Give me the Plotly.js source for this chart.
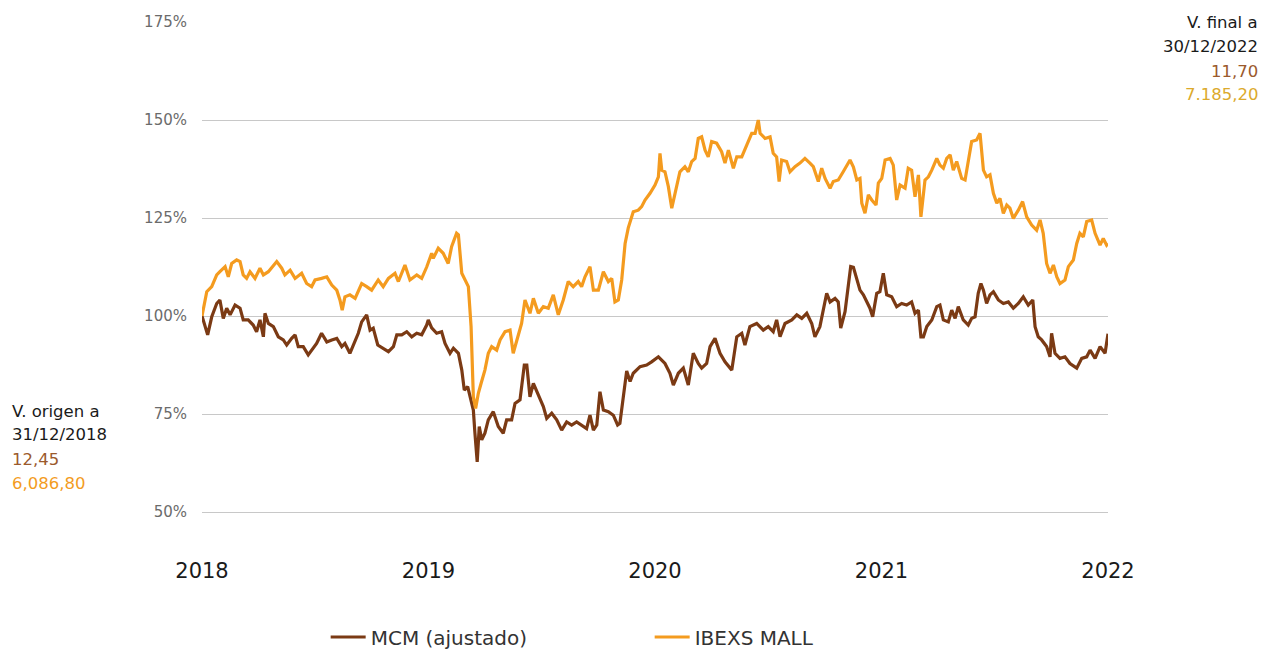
<!DOCTYPE html>
<html>
<head>
<meta charset="utf-8">
<script src="https://cdn.plot.ly/plotly-3.0.1.min.js"></script>
<style>html,body{margin:0;padding:0;background:#fff;}#chart{width:1274px;height:650px;}</style>
</head>
<body>
<div id="chart"></div>
<script>
// Time in decimal years, values as % of origin value
const mcmT = [2018.000,2018.013,2018.025,2018.043,2018.065,2018.079,2018.094,2018.109,2018.124,2018.146,2018.168,2018.182,2018.204,2018.226,2018.241,2018.256,2018.271,2018.278,2018.293,2018.315,2018.337,2018.359,2018.374,2018.396,2018.411,2018.425,2018.447,2018.469,2018.491,2018.506,2018.528,2018.551,2018.573,2018.595,2018.617,2018.631,2018.653,2018.676,2018.690,2018.705,2018.727,2018.742,2018.756,2018.776,2018.800,2018.823,2018.845,2018.860,2018.882,2018.904,2018.926,2018.948,2018.970,2018.992,2018.999,2019.014,2019.036,2019.058,2019.073,2019.095,2019.110,2019.132,2019.147,2019.158,2019.173,2019.188,2019.198,2019.205,2019.215,2019.224,2019.235,2019.249,2019.264,2019.286,2019.308,2019.330,2019.345,2019.367,2019.382,2019.404,2019.423,2019.434,2019.448,2019.463,2019.485,2019.507,2019.522,2019.544,2019.566,2019.588,2019.610,2019.632,2019.654,2019.676,2019.698,2019.713,2019.728,2019.743,2019.757,2019.772,2019.794,2019.816,2019.835,2019.845,2019.860,2019.875,2019.890,2019.904,2019.934,2019.963,2019.985,2020.015,2020.044,2020.066,2020.081,2020.103,2020.125,2020.147,2020.169,2020.191,2020.206,2020.228,2020.243,2020.265,2020.287,2020.309,2020.339,2020.361,2020.383,2020.397,2020.419,2020.449,2020.478,2020.500,2020.522,2020.537,2020.552,2020.574,2020.604,2020.626,2020.648,2020.670,2020.692,2020.706,2020.728,2020.743,2020.758,2020.773,2020.795,2020.809,2020.820,2020.839,2020.853,2020.864,2020.876,2020.891,2020.905,2020.920,2020.935,2020.949,2020.961,2020.979,2020.993,2021.008,2021.023,2021.045,2021.067,2021.089,2021.111,2021.133,2021.148,2021.163,2021.174,2021.185,2021.200,2021.222,2021.244,2021.258,2021.273,2021.295,2021.310,2021.325,2021.339,2021.361,2021.383,2021.398,2021.413,2021.427,2021.439,2021.450,2021.464,2021.479,2021.494,2021.516,2021.538,2021.560,2021.582,2021.604,2021.626,2021.648,2021.668,2021.678,2021.692,2021.707,2021.729,2021.744,2021.751,2021.766,2021.788,2021.810,2021.832,2021.862,2021.884,2021.906,2021.921,2021.943,2021.965,2021.987,2022.000];
const mcmV = [100,97.3,95.2,99.8,103.2,104.1,99.4,102,100.3,102.8,102,99,99,97.7,96,99,94.7,100.7,98.1,97.3,94.7,93.9,92.6,94.3,95.2,92.2,92.2,90.1,91.8,93,95.6,93.4,93.9,94.3,92.2,93,90.5,93.9,95.6,98.5,100.3,96.4,96.9,92.6,91.8,90.9,92.2,95.2,95.2,96,94.7,95.6,95.2,97.7,99,97,95.6,96,93,90.5,91.8,90.5,86.2,81.1,82,78.6,76,70.1,62.8,71.8,68.4,70.1,73.5,75.6,71.8,70.1,73.5,73.5,77.7,78.6,87.5,87.5,79.4,82.8,79.8,76.9,73.9,75.2,73.5,70.9,73,72.2,73,72.2,71.3,74.7,70.9,72.2,80.7,76,75.6,74.7,72.2,72.6,79.4,86,83.3,85.4,87.1,87.5,88.3,89.6,87.9,85.4,82.4,85.4,86.7,82.4,90.5,87.9,86.7,87.9,92.2,94.3,90.5,88.3,86.2,94.7,95.6,92.6,97.3,98.1,96.4,97.3,96,99,94.7,98.1,99,100.3,99.4,100.7,98.1,94.7,97.3,101.5,105.8,103.6,104.5,103.6,96.9,101.1,107.5,112.6,112.4,109,106.6,105.4,103.6,102,99.8,105.8,106.2,110.9,105.4,104.9,102.4,103.2,102.8,103.6,100.7,101.5,94.7,94.7,97.3,99,102.4,102.8,99,98.5,101.5,99.4,102.4,99,97.7,99.4,99.8,105.8,108.3,106.6,103.2,105.4,106.2,104.1,103.2,103.6,102,103.2,104.9,102.8,104.1,97.3,94.7,93.9,92.2,89.6,95.6,90.5,89.2,89.6,87.9,86.7,89.2,89.6,91.3,89.2,92.2,90.5,95.5];

const ibxT = [2018.000,2018.021,2018.043,2018.065,2018.079,2018.102,2018.116,2018.131,2018.153,2018.168,2018.182,2018.197,2018.212,2018.234,2018.256,2018.271,2018.293,2018.330,2018.352,2018.366,2018.389,2018.411,2018.440,2018.462,2018.484,2018.499,2018.528,2018.551,2018.573,2018.595,2018.609,2018.619,2018.631,2018.653,2018.676,2018.705,2018.727,2018.749,2018.778,2018.800,2018.823,2018.852,2018.867,2018.896,2018.918,2018.948,2018.970,2018.992,2019.014,2019.021,2019.043,2019.065,2019.087,2019.102,2019.124,2019.132,2019.147,2019.161,2019.176,2019.188,2019.198,2019.208,2019.220,2019.232,2019.249,2019.264,2019.279,2019.301,2019.316,2019.338,2019.360,2019.374,2019.389,2019.411,2019.426,2019.448,2019.463,2019.485,2019.507,2019.529,2019.551,2019.573,2019.595,2019.617,2019.639,2019.661,2019.676,2019.691,2019.713,2019.728,2019.750,2019.772,2019.794,2019.809,2019.823,2019.838,2019.853,2019.868,2019.882,2019.904,2019.926,2019.941,2019.956,2019.978,2020.000,2020.015,2020.022,2020.030,2020.044,2020.059,2020.074,2020.088,2020.110,2020.132,2020.147,2020.162,2020.177,2020.191,2020.206,2020.221,2020.235,2020.250,2020.272,2020.294,2020.309,2020.324,2020.346,2020.361,2020.383,2020.405,2020.427,2020.442,2020.456,2020.464,2020.486,2020.508,2020.522,2020.537,2020.548,2020.559,2020.581,2020.596,2020.618,2020.640,2020.662,2020.684,2020.699,2020.721,2020.736,2020.751,2020.773,2020.787,2020.809,2020.831,2020.846,2020.861,2020.876,2020.891,2020.905,2020.913,2020.927,2020.942,2020.957,2020.976,2020.986,2021.001,2021.016,2021.038,2021.052,2021.067,2021.082,2021.104,2021.118,2021.133,2021.148,2021.163,2021.174,2021.192,2021.207,2021.222,2021.244,2021.258,2021.273,2021.288,2021.303,2021.317,2021.332,2021.354,2021.369,2021.383,2021.398,2021.420,2021.435,2021.450,2021.464,2021.479,2021.494,2021.509,2021.523,2021.538,2021.553,2021.567,2021.582,2021.604,2021.623,2021.641,2021.663,2021.685,2021.700,2021.714,2021.729,2021.744,2021.759,2021.774,2021.788,2021.810,2021.825,2021.847,2021.862,2021.876,2021.891,2021.906,2021.928,2021.943,2021.965,2021.979,2021.994,2022.000];
const ibxV = [100,106.2,107.5,110.5,111.3,112.6,110,113.4,114.3,113.9,110.5,109.6,111.3,109.6,112.2,110.5,111.3,113.9,112.2,110.5,111.7,109.6,110.9,108.3,107.5,109.2,109.6,110,107.9,106.6,104.1,101.5,104.9,105.4,104.5,108.3,107.5,106.6,109.2,107.5,109.6,110.9,108.8,113,109.2,110.5,109.6,112.5,116,114.7,117.3,116,113.4,117.7,121.1,120.7,110.9,109.2,107.5,97.3,79.4,76.4,80.3,82.8,86.2,90.5,92.2,91.3,93.9,96,96.4,90.5,93.9,98.1,104.1,100.7,104.5,100.7,102.4,102,105.4,100.3,104.1,108.8,107.5,108.8,107.5,110,112.6,106.6,106.6,111.3,108.8,109.6,103.6,104.1,109.2,118.5,122.5,126.6,127,127.9,129.6,131.3,133.4,135.5,141.5,137.2,136.8,133,127.5,131.3,136.8,138.1,136.8,139.4,140.2,145.3,145.7,142.3,140.6,144.5,144.1,141.9,139,142.3,137.7,140.6,140.6,143.6,146.6,146.6,150,146.6,145.3,145.7,141.5,140.6,134.3,139.8,139.4,136.8,138.1,139,140.2,139,138.1,134.3,137.7,135.1,132.6,134.3,134.7,136.8,138.5,139.8,138,134.7,135.1,128.8,126.2,130.9,129.6,128.3,133.9,135.1,139.8,140.2,138.5,129.6,133.4,132.6,137.7,137.2,130.4,136,125.3,134.7,135.5,137.2,140.2,138.5,137.7,140.2,141.1,137.2,139.4,135.1,134.7,139,144.5,144.9,146.6,137.2,135.5,136,131.3,128.8,130,126.2,128.3,127.5,124.9,127,129.2,125.3,123.2,121.9,124.5,121.1,113.4,110.9,113,110,108.3,109.2,112.6,114.3,118.5,121.1,120.2,124.1,124.5,121.1,118.1,119.8,118.1,118.5];

const seriesNames = ['MCM (ajustado)', 'IBEXS MALL'];
const yTicks = [50, 75, 100, 125, 150, 175];
const yTickText = ['50%', '75%', '100%', '125%', '150%', '175%'];
const xTicks = [2018, 2019, 2020, 2021, 2022];
const xTickText = ['2018', '2019', '2020', '2021', '2022'];
const originLines = ['V. origen a', '31/12/2018', '12,45', '6,086,80'];
const finalLines = ['V. final a', '30/12/2022', '11,70', '7.185,20'];

const FONT = 'DejaVu Sans, sans-serif';
const brown = '#7b3a14';
const orange = '#f49b1f';
const textColorsL = ['#1a1a1a', '#1a1a1a', '#9b5a2c', '#f39c1e'];
const textColorsR = ['#1a1a1a', '#1a1a1a', '#9b5a2c', '#dcaa2c'];

const traces = [
  {x: mcmT, y: mcmV, name: seriesNames[0], type: 'scatter', mode: 'lines',
   line: {color: brown, width: 3.2}, hoverinfo: 'skip'},
  {x: ibxT, y: ibxV, name: seriesNames[1], type: 'scatter', mode: 'lines',
   line: {color: orange, width: 3.2}, hoverinfo: 'skip'}
];

// paper fractions for annotation lines (plot area 136..514 px from bottom)
const H = 492;
const toPaper = py => (650 - 136 - py) / H;
const leftY = [411, 435, 459, 483].map(toPaper);
const rightY = [22, 46, 71, 95].map(toPaper);
const annotations = [];
originLines.forEach((t, i) => annotations.push({
  xref: 'paper', yref: 'paper', x: -0.212, y: leftY[i], xanchor: 'left', yanchor: 'middle',
  showarrow: false, text: t, font: {size: 16.5, color: textColorsL[i], family: FONT}}));
finalLines.forEach((t, i) => annotations.push({
  xref: 'paper', yref: 'paper', x: 1.168, y: rightY[i], xanchor: 'right', yanchor: 'middle',
  showarrow: false, text: t, font: {size: 16.5, color: textColorsR[i], family: FONT}}));

const layout = {
  width: 1274, height: 650,
  margin: {l: 202, r: 166, t: 22, b: 136},
  paper_bgcolor: '#fff', plot_bgcolor: '#fff',
  font: {family: FONT, color: '#222'},
  showlegend: true,
  legend: {orientation: 'h', xref: 'paper', x: 0.1365, xanchor: 'left',
    yref: 'container', y: 0.02, yanchor: 'middle',
    font: {size: 20, color: '#333', family: FONT}, entrywidth: 274, entrywidthmode: 'pixels',
    itemwidth: 35, bgcolor: 'rgba(0,0,0,0)'},
  xaxis: {range: [2018, 2022], tickvals: xTicks, ticktext: xTickText,
    showgrid: false, zeroline: false, showline: false, automargin: false,
    ticks: 'outside', ticklen: 38, tickcolor: 'rgba(0,0,0,0)',
    tickfont: {size: 21, color: '#1a1a1a', family: FONT}, fixedrange: true},
  yaxis: {range: [49.5, 175], tickvals: yTicks, ticktext: yTickText, automargin: false,
    showgrid: true, gridcolor: '#c8c8c8', gridwidth: 1, zeroline: false, showline: false,
    ticks: 'outside', ticklen: 11, tickcolor: 'rgba(0,0,0,0)',
    tickfont: {size: 15, color: '#6b6b6b', family: FONT}, fixedrange: true},
  annotations: annotations
};

Plotly.newPlot('chart', traces, layout, {staticPlot: true, displayModeBar: false});
</script>
</body>
</html>
